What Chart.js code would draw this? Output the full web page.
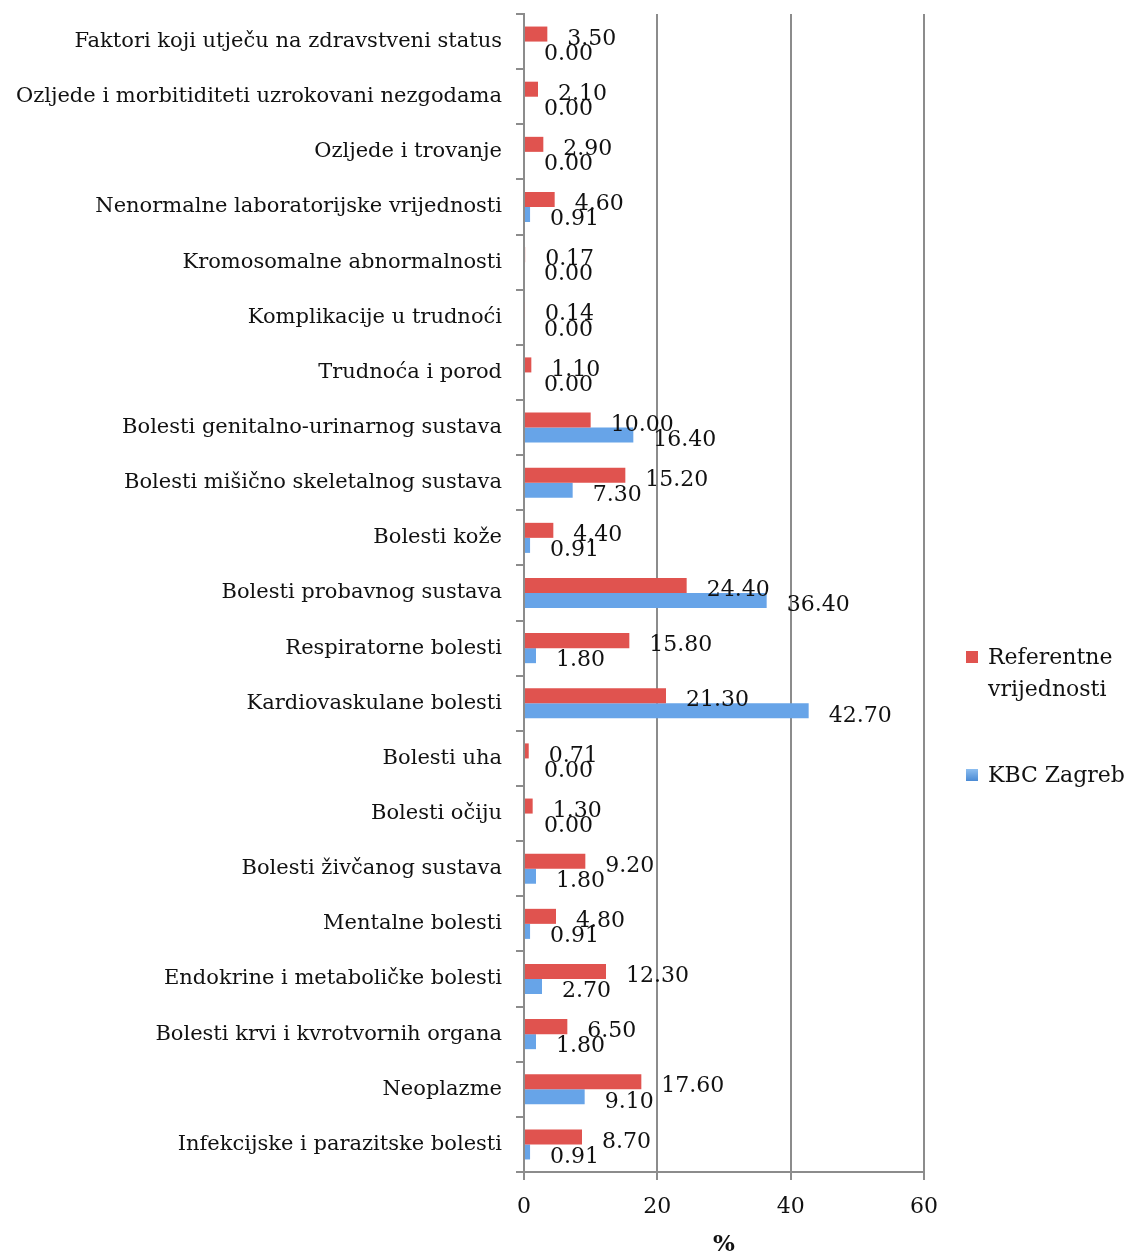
<!DOCTYPE html>
<html>
<head>
<meta charset="utf-8">
<script src="https://cdn.jsdelivr.net/npm/chart.js@4.4.1/dist/chart.umd.min.js"></script>
<style>
  html, body { margin: 0; padding: 0; background: #fff; }
  #wrap { position: relative; width: 1128px; height: 1259px; }
  #legend { position: absolute; left: 966px; top: 641px; font-family: "DejaVu Serif", serif; font-size: 22px; color: #111; line-height: 32px; white-space: nowrap; }
  .item { position: relative; padding-left: 22px; }
  .sw { position: absolute; left: 0; top: 10px; width: 12px; height: 12px; }
</style>
</head>
<body>
<div id="wrap">
  <canvas id="myChart" width="1128" height="1259"></canvas>
  <div id="legend">
    <div class="item"><span class="sw" style="background:#E0534F"></span>Referentne<br>vrijednosti</div>
    <div class="item" style="margin-top:54px"><span class="sw" style="background:linear-gradient(#8DBEF0,#4A8AD4)"></span>KBC Zagreb</div>
  </div>
</div>
<script>
const categories = [
    'Faktori koji utječu na zdravstveni status',
    'Ozljede i morbitiditeti uzrokovani nezgodama',
    'Ozljede i trovanje',
    'Nenormalne laboratorijske vrijednosti',
    'Kromosomalne abnormalnosti',
    'Komplikacije u trudnoći',
    'Trudnoća i porod',
    'Bolesti genitalno-urinarnog sustava',
    'Bolesti mišično skeletalnog sustava',
    'Bolesti kože',
    'Bolesti probavnog sustava',
    'Respiratorne bolesti',
    'Kardiovaskulane bolesti',
    'Bolesti uha',
    'Bolesti očiju',
    'Bolesti živčanog sustava',
    'Mentalne bolesti',
    'Endokrine i metaboličke bolesti',
    'Bolesti krvi i kvrotvornih organa',
    'Neoplazme',
    'Infekcijske i parazitske bolesti'
];
const referentne = [3.5, 2.1, 2.9, 4.6, 0.17, 0.14, 1.1, 10.0, 15.2, 4.4, 24.4, 15.8, 21.3, 0.71, 1.3, 9.2, 4.8, 12.3, 6.5, 17.6, 8.7];
const kbcZagreb = [0, 0, 0, 0.91, 0, 0, 0, 16.4, 7.3, 0.91, 36.4, 1.8, 42.7, 0, 0, 1.8, 0.91, 2.7, 1.8, 9.1, 0.91];
const seriesNames = ['Referentne vrijednosti', 'KBC Zagreb'];

const FONT = 'DejaVu Serif';

const valueLabels = {
    id: 'valueLabels',
    afterDatasetsDraw(chart) {
        const c = chart.ctx;
        c.save();
        c.font = '22px "' + FONT + '"';
        c.fillStyle = '#111';
        c.textAlign = 'left';
        c.textBaseline = 'middle';
        chart.data.datasets.forEach((ds, i) => {
            chart.getDatasetMeta(i).data.forEach((el, j) => {
                c.fillText(ds.data[j].toFixed(2), el.x + 20, el.y + 5);
            });
        });
        c.restore();
    }
};

const ctx = document.getElementById('myChart').getContext('2d');
new Chart(ctx, {
    type: 'bar',
    data: {
        labels: categories,
        datasets: [{
            label: seriesNames[0],
            data: referentne,
            backgroundColor: '#E0534F'
        }, {
            label: seriesNames[1],
            data: kbcZagreb,
            backgroundColor: '#67A4E8'
        }]
    },
    options: {
        indexAxis: 'y',
        responsive: false,
        animation: false,
        categoryPercentage: 0.545,
        barPercentage: 1.0,
        layout: { padding: { top: 14, right: 204, bottom: 0, left: 0 } },
        plugins: {
            legend: { display: false },
            tooltip: { enabled: false }
        },
        scales: {
            x: {
                min: 0,
                max: 60,
                ticks: { stepSize: 20, color: '#111', font: { family: FONT, size: 22 }, padding: 14 },
                grid: { color: '#8c8c8c', lineWidth: 2, tickLength: 8 },
                border: { color: '#8c8c8c', width: 2 },
                title: { display: true, text: '%', color: '#111', font: { family: FONT, size: 23, weight: 'bold' }, padding: { top: 0, bottom: 0 } },
                afterFit(scale) { scale.height = 87; }
            },
            y: {
                ticks: { color: '#111', font: { family: FONT, size: 21 }, padding: 14, autoSkip: false },
                grid: { drawOnChartArea: false, color: '#8c8c8c', lineWidth: 2, tickLength: 8 },
                border: { color: '#8c8c8c', width: 2 },
                afterFit(scale) {
                    scale.width = 524;
                    scale.paddingTop = 0;
                    scale.paddingBottom = 0;
                }
            }
        }
    },
    plugins: [valueLabels]
});
</script>
</body>
</html>
